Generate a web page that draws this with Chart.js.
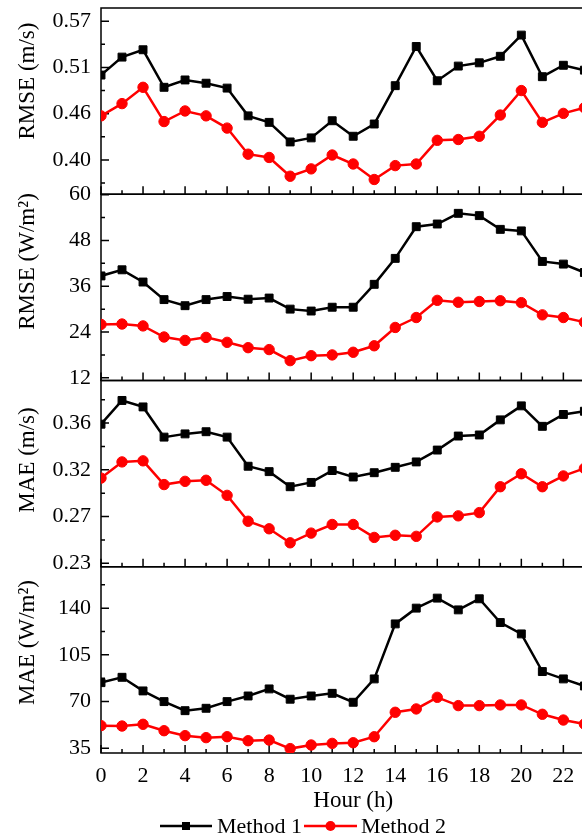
<!DOCTYPE html>
<html>
<head>
<meta charset="utf-8">
<script src="https://cdn.jsdelivr.net/npm/chart.js@4/dist/chart.umd.min.js"></script>
<style>
html,body{margin:0;padding:0;background:#fff;overflow:hidden;width:582px;height:840px;}
#wrap{position:absolute;left:0;top:0;width:612px;height:816px;}
#legend{position:absolute;left:0;top:814px;width:582px;height:24px;font-family:'Liberation Serif','Times New Roman',serif;font-size:22px;color:#000;}
.it{position:absolute;top:0;height:24px;display:flex;align-items:center;white-space:nowrap;}
</style>
</head>
<body>
<div id="wrap"><canvas id="c" width="612" height="816"></canvas></div>
<div id="legend"></div>
<script>
// ---------------- data ----------------
const hours = [0,1,2,3,4,5,6,7,8,9,10,11,12,13,14,15,16,17,18,19,20,21,22,23];
const seriesNames = ['Method 1', 'Method 2'];

const rmseWindM1 = [0.504,0.526,0.535,0.489,0.498,0.494,0.488,0.454,0.446,0.422,0.427,0.448,0.429,0.444,0.491,0.539,0.497,0.515,0.519,0.527,0.553,0.502,0.516,0.510];
const rmseWindM2 = [0.454,0.469,0.489,0.447,0.460,0.454,0.439,0.407,0.403,0.380,0.389,0.406,0.395,0.376,0.393,0.395,0.424,0.425,0.429,0.455,0.485,0.446,0.457,0.464];

const rmseIrrM1 = [38.7,40.3,37.1,32.5,30.9,32.5,33.3,32.6,32.9,30.0,29.5,30.5,30.5,36.5,43.3,51.6,52.3,55.1,54.5,50.9,50.5,42.5,41.8,39.6];
const rmseIrrM2 = [26.0,26.1,25.6,22.7,21.8,22.6,21.3,19.9,19.4,16.5,17.8,18.0,18.7,20.4,25.2,27.8,32.3,31.8,32.0,32.2,31.7,28.5,27.8,26.6];

const maeWindM1 = [0.359,0.381,0.375,0.347,0.350,0.352,0.347,0.320,0.315,0.301,0.305,0.316,0.310,0.314,0.319,0.324,0.335,0.348,0.349,0.363,0.376,0.357,0.368,0.371];
const maeWindM2 = [0.309,0.324,0.325,0.303,0.306,0.307,0.293,0.269,0.262,0.249,0.258,0.266,0.266,0.254,0.256,0.255,0.273,0.274,0.277,0.301,0.313,0.301,0.311,0.318];

const maeIrrM1 = [84.2,88.2,78.0,70.0,63.2,65.0,70.0,74.2,79.5,71.8,74.2,76.2,69.5,87.0,128.2,140.0,147.5,138.7,147.0,129.2,120.7,92.5,87.0,81.7];
const maeIrrM2 = [52.0,51.7,53.0,48.2,44.5,43.0,43.7,40.7,41.2,34.8,37.5,38.7,39.2,43.7,62.0,64.5,73.2,67.0,67.0,67.5,67.5,60.5,56.2,53.2];

// tick values (labels shown rounded)
const ticksRmseWind = [0.40, 0.4567, 0.5133, 0.57];
const ticksRmseIrr  = [12, 24, 36, 48, 60];
const ticksMaeWind  = [0.23, 0.2733, 0.3167, 0.36];
const ticksMaeIrr   = [35, 70, 105, 140];
const xTickLabels   = [0,2,4,6,8,10,12,14,16,18,20,22];

const axisTitles = ['RMSE (m/s)', 'RMSE (W/m\u00B2)', 'MAE (m/s)', 'MAE (W/m\u00B2)'];

// ---------------- config ----------------
const FONT = "'Liberation Serif','Times New Roman',serif";
const BLACK = '#000000';
const RED = '#ff0000';

const panels = [
  {id:'y1', m1:rmseWindM1, m2:rmseWindM2, ticks:ticksRmseWind, min:0.3579, max:0.5862, dec:2, weight:4, titleY:81},
  {id:'y2', m1:rmseIrrM1,  m2:rmseIrrM2,  ticks:ticksRmseIrr,  min:11.3,   max:60.1,   dec:0, weight:3, titleY:261.5},
  {id:'y3', m1:maeWindM1,  m2:maeWindM2,  ticks:ticksMaeWind,  min:0.2268, max:0.3995, dec:2, weight:2, titleY:460},
  {id:'y4', m1:maeIrrM1,   m2:maeIrrM2,   ticks:ticksMaeIrr,   min:31.5,   max:171,    dec:0, weight:1, titleY:642.5}
];

const toXY = arr => hours.map((h, i) => ({x: h, y: arr[i]}));

const datasets = [];
panels.forEach(p => {
  datasets.push({
    label: seriesNames[0], data: toXY(p.m1), yAxisID: p.id,
    borderColor: BLACK, backgroundColor: BLACK, borderWidth: 2.5,
    pointStyle: 'rect', pointRadius: 5.6, pointBackgroundColor: BLACK,
    pointBorderColor: BLACK, pointBorderWidth: 1, tension: 0
  });
  datasets.push({
    label: seriesNames[1], data: toXY(p.m2), yAxisID: p.id,
    borderColor: RED, backgroundColor: RED, borderWidth: 2.5,
    pointStyle: 'circle', pointRadius: 5.2, pointBackgroundColor: RED,
    pointBorderColor: RED, pointBorderWidth: 1, tension: 0
  });
});

const scales = {
  x: {
    type: 'linear', min: 0, max: 24, position: 'bottom',
    grid: {display: false, drawTicks: false, tickLength: 0}, border: {display: false},
    afterBuildTicks: s => { s.ticks = xTickLabels.map(v => ({value: v})); },
    ticks: {autoSkip: false, maxRotation: 0, padding: 10, color: '#000', font: {family: FONT, size: 22}},
    title: {display: true, text: 'Hour (h)', color: '#000', font: {family: FONT, size: 23}, padding: {top: 0, bottom: 1}},
    afterFit: s => { s.height = 63; s.paddingLeft = 0; s.paddingRight = 0; }
  }
};
panels.forEach(p => {
  scales[p.id] = {
    type: 'linear', position: 'left', stack: 'panels', stackWeight: 1, weight: p.weight,
    min: p.min, max: p.max,
    grid: {display: false, drawTicks: false, tickLength: 0}, border: {display: false},
    afterBuildTicks: s => { s.ticks = p.ticks.map(v => ({value: v})); },
    ticks: {autoSkip: false, padding: 10, color: '#000', font: {family: FONT, size: 22},
            callback: v => Number(v).toFixed(p.dec)},
    afterFit: s => { s.width = 101; s.paddingTop = 0; s.paddingBottom = 0; }
  };
});

const framePlugin = {
  id: 'frames',
  beforeDatasetsDraw(chart) {
    const ctx = chart.ctx, ca = chart.chartArea, xs = chart.scales.x;
    ctx.save();
    ctx.strokeStyle = '#000';
    ctx.lineWidth = 1.5;
    panels.forEach(p => {
      const s = chart.scales[p.id];
      ctx.beginPath();
      ctx.moveTo(ca.right + 10, s.top);
      ctx.lineTo(ca.left, s.top);
      ctx.lineTo(ca.left, s.bottom);
      ctx.lineTo(ca.right + 10, s.bottom);
      ctx.stroke();
      ctx.beginPath();
      for (let h = 0; h <= 24; h++) {
        const px = xs.getPixelForValue(h);
        const len = h % 2 === 0 ? 8 : 4;
        ctx.moveTo(px, s.bottom);
        ctx.lineTo(px, s.bottom - len);
      }
      const t = p.ticks, step = t[1] - t[0];
      const minors = [];
      for (let v = t[0] - step / 2; v <= p.max; v += step) if (v >= p.min) minors.push(v);
      t.forEach(v => { const py = s.getPixelForValue(v); ctx.moveTo(ca.left, py); ctx.lineTo(ca.left + 8, py); });
      minors.forEach(v => { const py = s.getPixelForValue(v); ctx.moveTo(ca.left, py); ctx.lineTo(ca.left + 4, py); });
      ctx.stroke();
    });
    ctx.restore();
  },
  afterDraw(chart) {
    const ctx = chart.ctx;
    ctx.save();
    ctx.fillStyle = '#000';
    ctx.font = '23px ' + FONT;
    ctx.textAlign = 'center';
    ctx.textBaseline = 'middle';
    panels.forEach((p, i) => {
      ctx.save();
      ctx.translate(28, p.titleY);
      ctx.rotate(-Math.PI / 2);
      ctx.fillText(axisTitles[i], 0, 0);
      ctx.restore();
    });
    ctx.restore();
  }
};

new Chart(document.getElementById('c'), {
  type: 'line',
  data: {datasets},
  options: {
    responsive: false, animation: false, devicePixelRatio: 1,
    layout: {padding: {top: 8, left: 0, right: 0.5, bottom: 0}},
    plugins: {legend: {display: false}, tooltip: {enabled: false}},
    scales
  },
  plugins: [framePlugin]
});

// ---------------- legend (HTML) ----------------
const leg = document.getElementById('legend');
const legendItems = [
  {name: seriesNames[0], color: BLACK, marker: 'rect', iconLeft: 160, iconW: 52, textLeft: 217},
  {name: seriesNames[1], color: RED, marker: 'circle', iconLeft: 304, iconW: 53, textLeft: 361}
];
legendItems.forEach(it => {
  const ic = document.createElement('div');
  ic.className = 'it';
  ic.style.left = it.iconLeft + 'px';
  const mid = it.iconW / 2;
  const mk = it.marker === 'rect'
    ? `<rect x="${mid - 4}" y="8" width="8" height="8" fill="${it.color}"/>`
    : `<circle cx="${mid}" cy="12" r="5" fill="${it.color}"/>`;
  ic.innerHTML = `<svg width="${it.iconW}" height="24"><line x1="0" y1="12" x2="${it.iconW}" y2="12" stroke="${it.color}" stroke-width="2.5"/>${mk}</svg>`;
  leg.appendChild(ic);
  const tx = document.createElement('div');
  tx.className = 'it';
  tx.style.left = it.textLeft + 'px';
  tx.textContent = it.name;
  leg.appendChild(tx);
});
</script>
</body>
</html>
